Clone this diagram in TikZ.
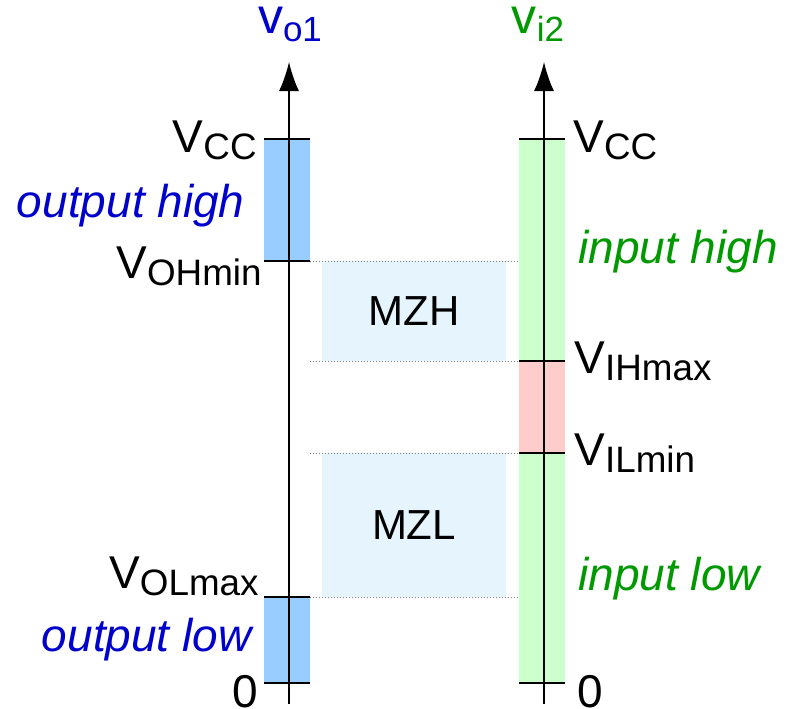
\documentclass[tikz,border=0pt]{standalone}
\usepackage{fontspec}
\setmainfont{Liberation Sans}
\usetikzlibrary{arrows.meta}

\definecolor{outblue}{RGB}{0,0,204}
\definecolor{ingreen}{RGB}{0,153,0}
\definecolor{barblue}{RGB}{153,204,255}
\definecolor{bargreen}{RGB}{204,255,204}
\definecolor{barred}{RGB}{255,204,204}
\definecolor{zoneblue}{RGB}{230,244,253}

\newcommand{\lo}[2][0.8]{\raisebox{-0.17em}{\scalebox{#1}{#2}}}

\begin{document}
\begin{tikzpicture}[>={Latex[length=14.5pt,width=10pt]}, x=0.5pt, y=-0.5pt,
    lbl/.style={inner sep=0pt, font=\fontsize{23}{27}\selectfont},
    ttl/.style={inner sep=0pt, font=\fontsize{25}{30}\selectfont},
    zone/.style={fill=zoneblue, inner sep=0pt, minimum width=92pt,
        font=\fontsize{21}{25}\selectfont},
    tick/.style={line width=0.8pt},
    guide/.style={densely dotted, gray, line width=0.5pt}]
    \useasboundingbox (0,0) rectangle (787,708);

    % Balken
    \fill[barblue] (264,139) rectangle (310,261);
    \fill[barblue] (264,597) rectangle (310,683);
    \fill[bargreen] (519,139) rectangle (565,683);
    \fill[barred] (519,361) rectangle (565,453);

    % Rauschabstand
    \node[zone, minimum height=50pt] (mzh) at (414,311) {MZH};
    \node[zone, minimum height=72pt] (mzl) at (414,525) {MZL};

    % Pegel
    \coordinate (oh) at (310,261);
    \coordinate (ol) at (310,597);
    \coordinate (ohr) at (519,261);
    \coordinate (olr) at (519,597);
    \coordinate (ih) at (519,361);
    \coordinate (il) at (519,453);
    \coordinate (ihl) at (310,361);
    \coordinate (ill) at (310,453);
    \draw[guide] (oh) -- (ohr);
    \draw[guide] (ihl) -- (ih);
    \draw[guide] (ill) -- (il);
    \draw[guide] (ol) -- (olr);

    \draw[tick] (264,139) -- (310,139);
    \draw[tick] (264,261) -- (oh);
    \draw[tick] (264,597) -- (ol);
    \draw[tick] (264,683) -- (310,683);
    \draw[tick] (519,139) -- (565,139);
    \draw[tick] (ih) -- (565,361);
    \draw[tick] (il) -- (565,453);
    \draw[tick] (519,683) -- (565,683);

    % Achsen
    \coordinate (o1bot) at (289,704);
    \coordinate (o1top) at (289,62);
    \coordinate (i2bot) at (544,704);
    \coordinate (i2top) at (544,62);
    \draw[->, line width=0.75pt] (o1bot) -- (o1top);
    \draw[->, line width=0.75pt] (i2bot) -- (i2top);

    \node[ttl, text=outblue, anchor=base] (vo1) at (290,33) {v\lo[0.7]{o1}};
    \node[ttl, text=ingreen, anchor=base] (vi2) at (538,33) {v\lo[0.7]{i2}};

    % Ausgang
    \node[lbl, anchor=base east] (vccl) at (257,152) {V\lo{CC}};
    \node[lbl, anchor=base east] (vohmin) at (262,278) {V\lo{OHmin}};
    \node[lbl, anchor=base east] (volmax) at (259,588) {V\lo{OLmax}};
    \node[lbl, anchor=base east] (zerol) at (258,707) {0};
    \node[lbl, anchor=base east, text=outblue] (outhigh) at (245,217) {\itshape output high};
    \node[lbl, anchor=base east, text=outblue] (outlow) at (252,651) {\itshape output low};

    % Eingang
    \node[lbl, anchor=base west] (vccr) at (573,152) {V\lo{CC}};
    \node[lbl, anchor=base west] (vihmax) at (574,373) {V\lo{IHmax}};
    \node[lbl, anchor=base west] (vilmin) at (574,465) {V\lo{ILmin}};
    \node[lbl, anchor=base west] (zeror) at (577,707) {0};
    \node[lbl, anchor=base west, text=ingreen] (inhigh) at (578,263) {\itshape input high};
    \node[lbl, anchor=base west, text=ingreen] (inlow) at (578,590) {\itshape input low};
\end{tikzpicture}
\end{document}
